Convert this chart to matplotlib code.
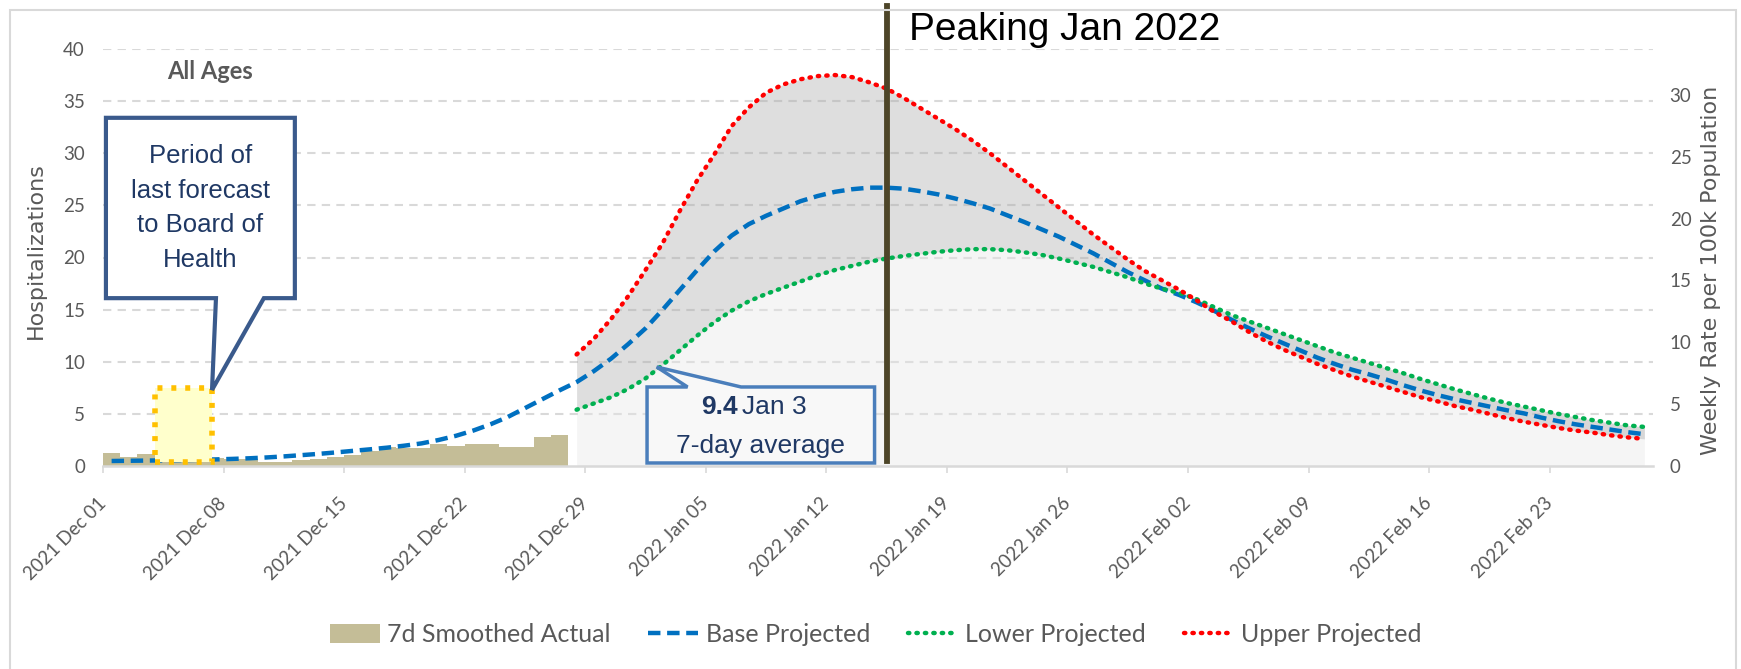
import numpy as np
import pandas as pd
import matplotlib
matplotlib.use("Agg")
import matplotlib.pyplot as plt
import matplotlib.transforms as mtransforms
from matplotlib.patches import Polygon, Rectangle
from matplotlib.lines import Line2D

# ---- data ----
start_date = "2021-12-01"
n_days = 90
proj_start = 27          # first projected day (Dec 28)
peak_day = 45            # Jan 15

actual = [1.25, 0.9, 1.15, 1.0, 0.9, 0.8, 0.75, 0.7, 0.65, 0.35, 0.4, 0.6, 0.7, 0.9,
          1.1, 1.4, 1.8, 1.75, 1.7, 2.15, 1.95, 2.15, 2.15, 1.8, 1.8, 2.8, 3.0]

base = [0.48, 0.50, 0.52, 0.54, 0.56, 0.59, 0.63, 0.68, 0.74, 0.82,
        0.92, 1.04, 1.16, 1.30, 1.45, 1.60, 1.76, 1.95, 2.17, 2.50,
        2.90, 3.40, 4.00, 4.70, 5.55, 6.40, 7.25, 8.05, 9.10, 10.30,
        11.70, 13.20, 15.00, 16.90, 18.80, 20.60, 22.10, 23.20, 24.00, 24.70,
        25.40, 25.90, 26.30, 26.55, 26.70, 26.70, 26.60, 26.35, 26.05, 25.65,
        25.20, 24.70, 24.05, 23.40, 22.70, 22.00, 21.20, 20.40, 19.50, 18.60,
        17.80, 17.00, 16.40, 15.70, 14.90, 14.05, 13.25, 12.50, 11.80, 11.10,
        10.40, 9.80, 9.25, 8.80, 8.30, 7.75, 7.25, 6.80, 6.40, 6.05,
        5.70, 5.35, 5.05, 4.65, 4.30, 4.00, 3.75, 3.50, 3.25, 3.05]

upper = [10.7, 12.2, 14.1, 16.3, 18.8, 21.4, 24.5, 27.4, 29.9, 32.6,
         34.4, 35.8, 36.6, 37.1, 37.4, 37.5, 37.3, 36.8, 36.2, 35.3,
         34.3, 33.3, 32.3, 31.2, 30.0, 28.7, 27.4, 26.1, 24.8, 23.5,
         22.2, 21.0, 19.8, 18.7, 17.8, 16.9, 15.9, 14.8, 13.9, 12.9,
         12.0, 11.2, 10.5, 9.8, 9.2, 8.6, 8.1, 7.6, 7.1, 6.6,
         6.2, 5.75, 5.4, 5.0, 4.6, 4.25, 3.95, 3.65, 3.4, 3.2,
         2.95, 2.75, 2.6]

lower = [5.4, 6.0, 6.6, 7.4, 8.4, 9.7, 11.1, 12.5, 13.8, 14.9,
         15.8, 16.5, 17.1, 17.7, 18.3, 18.8, 19.2, 19.6, 19.9, 20.15,
         20.35, 20.55, 20.7, 20.8, 20.8, 20.7, 20.5, 20.25, 19.9, 19.5,
         19.1, 18.6, 18.1, 17.5, 17.0, 16.6, 16.0, 15.25, 14.5, 13.9,
         13.3, 12.7, 12.1, 11.5, 10.9, 10.4, 9.9, 9.4, 8.9, 8.35,
         7.85, 7.35, 6.9, 6.45, 6.05, 5.7, 5.35, 5.0, 4.7, 4.4,
         4.15, 3.9, 3.75]

rate_per_hosp = 30 / 35.6   # weekly rate per 100k per daily hospitalization

dates = pd.date_range(start_date, periods=n_days, freq="D")
tick_dates = dates[::7]
tick_labels = [d.strftime("%Y %b %d") for d in tick_dates]

x_all = np.arange(n_days)
x_act = np.arange(len(actual))
x_proj = np.arange(proj_start, proj_start + len(upper))

# ---- style ----
GRAY_TXT = "#595959"
GRID = "#d9d9d9"
NAVY = "#1f3864"
NARROW = ["Liberation Sans", "DejaVu Sans"]
plt.rcParams["font.family"] = ["Lato", "DejaVu Sans"]

fig = plt.figure(figsize=(17.41, 6.69), dpi=100)
ax = fig.add_axes([103 / 1741, 1 - 466 / 669, 1550 / 1741, 417 / 669])

# fills
ax.fill_between(x_proj, 0, lower, color="#e6e6e6", alpha=0.4, lw=0, zorder=1)
ax.fill_between(x_proj, lower, upper, color="#a6a6a6", alpha=0.37, lw=0, zorder=1)

# bars
ax.bar(x_act, actual, width=1.0, color="#c4bd97", zorder=2)

# lines
ax.plot(x_all, base, color="#0070c0", lw=3.2, linestyle=(0, (2.8, 1.5)), zorder=4)
ax.plot(x_proj, lower, color="#00b050", lw=3.2, linestyle=(0, (0.3, 1.6)),
        dash_capstyle="round", zorder=4)
ax.plot(x_proj, upper, color="#ff0000", lw=3.2, linestyle=(0, (0.3, 1.6)),
        dash_capstyle="round", zorder=4)

ax.set_xlim(-0.5, n_days - 0.5)
ax.set_ylim(0, 40)
ax.set_yticks(np.arange(0, 41, 5))
for v in np.arange(5, 41, 5):
    ax.axhline(v, color=GRID, lw=1.5, linestyle=(0, (4, 3)), zorder=0.5)

tick_pos = np.arange(0, n_days, 7) - 0.5
ax.set_xticks(tick_pos)
ax.set_xticklabels(tick_labels, rotation=45, ha="right", va="center",
                   rotation_mode="anchor", fontsize=13.5, color=GRAY_TXT)
offset = mtransforms.ScaledTranslation(5 / 100, 0, fig.dpi_scale_trans)
for lbl in ax.get_xticklabels():
    lbl.set_transform(lbl.get_transform() + offset)
ax.tick_params(axis="x", length=5, width=1.2, color=GRID, pad=20)
ax.tick_params(axis="y", length=0, pad=13, labelsize=13.5, labelcolor=GRAY_TXT)
for s in ["top", "right", "left"]:
    ax.spines[s].set_visible(False)
ax.spines["bottom"].set_color(GRID)
ax.spines["bottom"].set_linewidth(1.8)

ax.set_ylabel("Hospitalizations", family="DejaVu Sans", fontsize=16, color=GRAY_TXT)
ax.yaxis.set_label_coords(-0.037, 0.516)

# secondary axis
ax2 = ax.twinx()
ax2.set_ylim(0, 40 * rate_per_hosp)
ax2.set_yticks(np.arange(0, 31, 5))
ax2.tick_params(axis="y", length=0, pad=12, labelsize=13.5, labelcolor=GRAY_TXT)
for s in ax2.spines.values():
    s.set_visible(False)
ax2.set_ylabel("Weekly Rate per 100k Population", family="DejaVu Sans",
               fontsize=16, color=GRAY_TXT)
ax2.yaxis.set_label_coords(1.031, 0.47)

# peak line + title
ax.plot([peak_day, peak_day], [0.5, 44.1], color="#4d4528", lw=4.2,
        clip_on=False, zorder=6)
ax.text(peak_day + 1.3, 40.9, "Peaking Jan 2022", family=NARROW, fontsize=28,
        color="black", va="baseline", ha="left", clip_on=False)

ax.text(5.7, 37.8, "All Ages", fontsize=17, fontweight="bold", color=GRAY_TXT,
        ha="center", va="center")

# yellow period box
ax.add_patch(Rectangle((2.5, 0.35), 3.3, 7.15, facecolor="#ffffcc",
                       edgecolor="#ffc000", lw=4, linestyle=(0, (0.9, 1.6)), zorder=5))

# callout 1
call1 = [(-0.33, 33.4), (10.64, 33.4), (10.64, 16.1), (8.84, 16.1),
         (5.83, 7.3), (6.06, 16.1), (-0.33, 16.1)]
ax.add_patch(Polygon(call1, closed=True, facecolor="white", edgecolor="#3a5a8c",
                     lw=3, joinstyle="miter", zorder=7, clip_on=False))
ax.text(5.16, 24.75, "Period of\nlast forecast\nto Board of\nHealth", family=NARROW,
        fontsize=18.5, color=NAVY, ha="center", va="center", linespacing=1.55, zorder=8)

# callout 2
call2 = [(31.09, 7.58), (33.44, 7.58), (31.65, 9.5), (36.55, 7.58), (44.3, 7.58),
         (44.3, 0.29), (31.09, 0.29)]
ax.add_patch(Polygon(call2, closed=True, facecolor="#f8f8f8", edgecolor="#4a7ebb",
                     lw=2.5, joinstyle="miter", zorder=7))
ax.text(36.35, 5.7, "9.4", family=NARROW, fontsize=19, fontweight="bold",
        color=NAVY, ha="right", va="center", zorder=8)
ax.text(36.6, 5.7, "Jan 3", family=NARROW, fontsize=19, color=NAVY,
        ha="left", va="center", zorder=8)
ax.text(37.7, 1.9, "7-day average", family=NARROW, fontsize=19, color=NAVY,
        ha="center", va="center", zorder=8)

# legend
handles = [
    Rectangle((0, 0), 1, 1, facecolor="#c4bd97"),
    Line2D([], [], color="#0070c0", lw=3.2, linestyle=(0, (2.8, 1.5))),
    Line2D([], [], color="#00b050", lw=3.2, linestyle=(0, (0.3, 1.6)), dash_capstyle="round"),
    Line2D([], [], color="#ff0000", lw=3.2, linestyle=(0, (0.3, 1.6)), dash_capstyle="round"),
]
names = ["7d Smoothed Actual", "Base Projected", "Lower Projected", "Upper Projected"]
leg = fig.legend(handles, names, loc="center", bbox_to_anchor=(0.503, 0.051), ncol=4,
                 frameon=False, fontsize=18, handlelength=2.0, handleheight=0.8,
                 handletextpad=0.3, columnspacing=1.5)
for t in leg.get_texts():
    t.set_color(GRAY_TXT)

# chart border
fig.add_artist(Rectangle((10 / 1741, -0.02), 1726 / 1741, 1.02 - 10 / 669,
                         transform=fig.transFigure, fill=False, edgecolor=GRID, lw=1.5))

fig.savefig("out.png", dpi=100)
